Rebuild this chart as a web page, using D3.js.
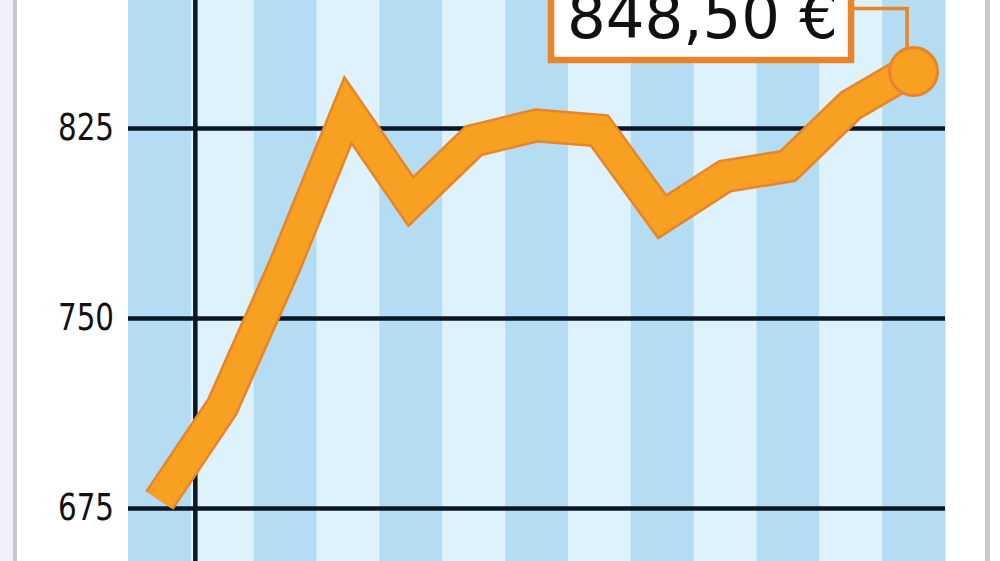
<!DOCTYPE html>
<html>
<head>
<meta charset="utf-8">
<script src="https://cdn.jsdelivr.net/npm/d3@7"></script>
<style>
  html, body { margin: 0; padding: 0; background: #ffffff; }
  svg { display: block; }
</style>
</head>
<body>
<svg id="chart" width="1000" height="561"></svg>
<script>
// ---- data ----
const months = ["Dez", "Jan", "Feb", "Mär", "Apr", "Mai", "Jun", "Jul", "Aug", "Sep", "Okt", "Nov", "Dez"];
const prices = [678, 715, 771, 832, 796, 820, 826, 824, 790, 806, 810, 834, 848.5];
const yTicks = [675, 750, 825];
const yTickLabels = ["675", "750", "825"];
const lastLabel = "848,50 €";

// ---- layout ----
const W = 1000, H = 561;
const plot = { left: 128, right: 945, top: 0, bottom: H };

const svg = d3.select("#chart");

const idx = d3.range(months.length);
const x = d3.scaleBand().domain(idx).range([plot.left, plot.right]).padding(0);
const y = d3.scaleLinear().domain([675, 825]).range([508, 128]);

// page frame
svg.append("rect").attr("x", 0).attr("y", 0).attr("width", W).attr("height", H).attr("fill", "#ffffff");
svg.append("rect").attr("x", 0).attr("y", 0).attr("width", 13).attr("height", H).attr("fill", "#f1f1f9");
svg.append("rect").attr("x", 13).attr("y", 0).attr("width", 4).attr("height", H).attr("fill", "#c6c6ce");
svg.append("rect").attr("x", 985).attr("y", 0).attr("width", 5).attr("height", H).attr("fill", "#cacaca");

// stripes
svg.append("g").selectAll("rect").data(idx).join("rect")
  .attr("x", d => x(d))
  .attr("y", plot.top)
  .attr("width", x.bandwidth() + 0.5)
  .attr("height", plot.bottom - plot.top)
  .attr("fill", d => d % 2 === 0 ? "#b4ddf4" : "#def2fc");

// horizontal grid + labels via axis
const yAxis = d3.axisLeft(y)
  .tickValues(yTicks)
  .tickSize(-(plot.right - plot.left))
  .tickPadding(14)
  .tickFormat((d, i) => yTickLabels[i]);

const gy = svg.append("g")
  .attr("transform", `translate(${plot.left},0)`)
  .call(yAxis);
gy.select(".domain").remove();
gy.selectAll(".tick line")
  .attr("stroke", "#0b1626")
  .attr("stroke-width", 4.5);
gy.selectAll(".tick text")
  .attr("fill", "#111111")
  .attr("font-family", "'DejaVu Sans Condensed', 'Liberation Sans Narrow', 'DejaVu Sans', sans-serif")
  .attr("font-size", 37)
  .attr("dy", "0.3em")
  .attr("textLength", 56)
  .attr("lengthAdjust", "spacingAndGlyphs");

// vertical year separator
const sepX = x(1) + 4.5;
svg.append("line")
  .attr("x1", sepX).attr("x2", sepX)
  .attr("y1", plot.top).attr("y2", plot.bottom)
  .attr("stroke", "#0b1626")
  .attr("stroke-width", 4.5);

// price line
const line = d3.line()
  .x((d, i) => x(i) + x.bandwidth() / 2)
  .y(d => y(d));

svg.append("path")
  .datum(prices)
  .attr("d", line)
  .attr("fill", "none")
  .attr("stroke", "#e8842a")
  .attr("stroke-width", 34)
  .attr("stroke-linejoin", "miter")
  .attr("stroke-miterlimit", 10)
  .attr("stroke-linecap", "butt");

svg.append("path")
  .datum(prices)
  .attr("d", line)
  .attr("fill", "none")
  .attr("stroke", "#f7a021")
  .attr("stroke-width", 29)
  .attr("stroke-linejoin", "miter")
  .attr("stroke-miterlimit", 10)
  .attr("stroke-linecap", "butt");

// last point marker
const last = prices.length - 1;
const lx = x(last) + x.bandwidth() / 2;
const ly = y(prices[last]);
svg.append("circle")
  .attr("cx", lx).attr("cy", ly + 3).attr("r", 24)
  .attr("fill", "#f7a021")
  .attr("stroke", "#e8842a")
  .attr("stroke-width", 3);

// connector from label box to marker
const boxRight = 851;
svg.append("path")
  .attr("d", `M${boxRight},8.5 H${lx - 6.5} V${ly - 20}`)
  .attr("fill", "none")
  .attr("stroke", "#e8842a")
  .attr("stroke-width", 3.5);

// label box
svg.append("rect")
  .attr("x", 551).attr("y", -20)
  .attr("width", boxRight - 551).attr("height", 80)
  .attr("fill", "#ffffff")
  .attr("stroke", "#e8842a")
  .attr("stroke-width", 6.5);

svg.append("text")
  .attr("x", 567).attr("y", 38)
  .attr("font-family", "'DejaVu Sans Condensed', 'Liberation Sans Narrow', 'DejaVu Sans', sans-serif")
  .attr("font-size", 62)
  .attr("fill", "#111111")
  .attr("textLength", 271)
  .attr("lengthAdjust", "spacingAndGlyphs")
  .text(lastLabel);
</script>
</body>
</html>
